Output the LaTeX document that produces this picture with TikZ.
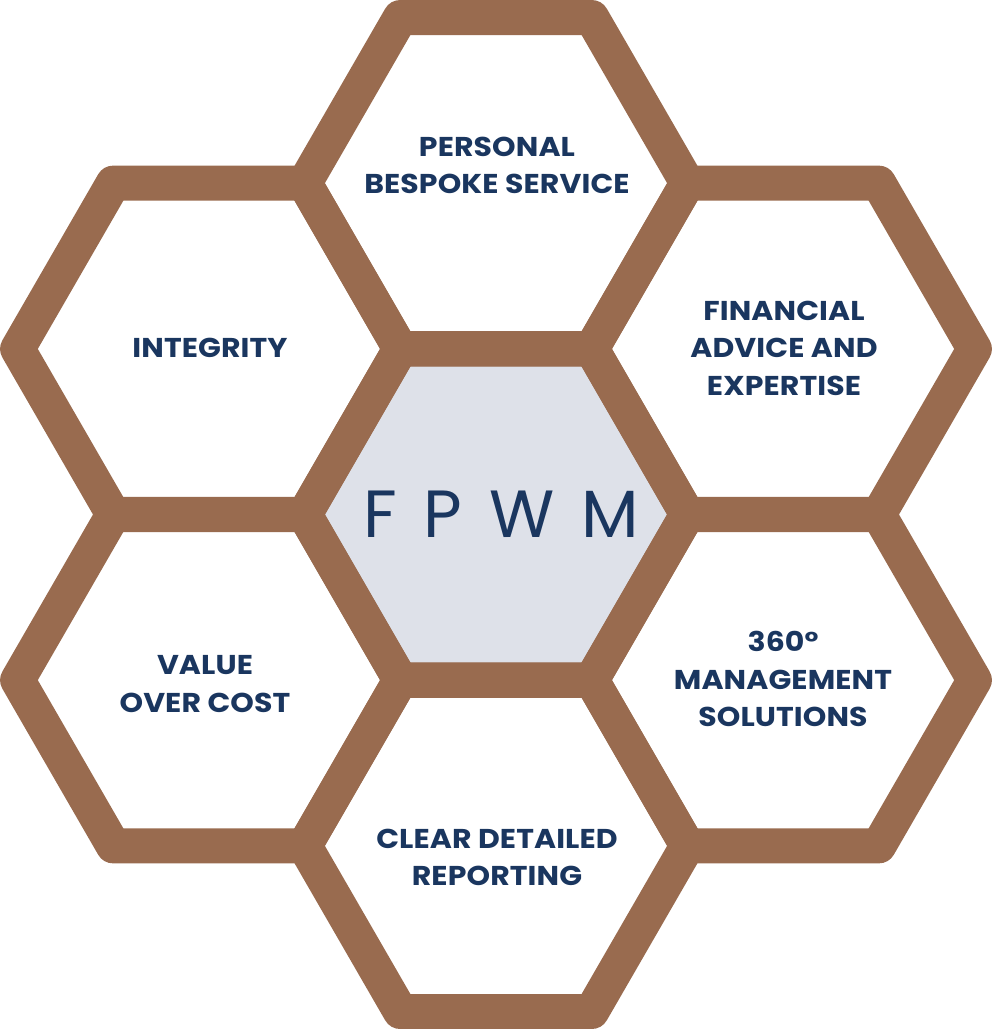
\documentclass[tikz,border=0pt]{standalone}
\usepackage{fontspec}
\setmainfont[FakeStretch=1.1,LetterSpace=0.4]{Poppins}
\newfontfamily\logofont{Poppins}
\usetikzlibrary{calc}
\definecolor{hexbrown}{HTML}{996B4F}
\definecolor{hexnavy}{HTML}{1A365F}
\definecolor{hexgrey}{HTML}{DEE1E9}
\tikzset{
	hexline/.style={line width=7mm,draw=hexbrown,line join=round},
	hexlabel/.style={align=center,text=hexnavy,inner sep=0,font=\fontsize{15.5}{21.3}\selectfont\bfseries},
}

\begin{document}
\begin{tikzpicture}[x=0.02cm,y=-0.02cm]

	\useasboundingbox (0,0) rectangle (992,1029);

	\coordinate (mid) at (501,514.5);
	\fill[hexgrey] (304.6,514.5) -- (400.3,348.7) -- (591.7,348.7) -- (687.4,514.5) -- (591.7,680.3) -- (400.3,680.3) -- cycle;

	% outer cells first, then the middle one on top
	\foreach \x/\y in {496/183.3, 209/348.9, 783/348.9, 209/680.1, 783/680.1, 496/845.7, 496/514.5}
		\draw[hexline] (\x-191.4,\y) -- (\x-95.7,\y-165.8) -- (\x+95.7,\y-165.8) -- (\x+191.4,\y) -- (\x+95.7,\y+165.8) -- (\x-95.7,\y+165.8) -- cycle;

	\node[hexlabel] (personal) at (497,165.6) {PERSONAL\\BESPOKE SERVICE};
	\node[hexlabel] (integrity) at (210,347.5) {INTEGRITY};
	\node[hexlabel] (financial) at (784,348) {FINANCIAL\\ADVICE AND\\EXPERTISE};
	\node[hexlabel] (value) at (205,684) {VALUE\\OVER COST};
	\node[hexlabel] (solutions) at (783,679) {360°\\MANAGEMENT\\SOLUTIONS};
	\node[hexlabel] (reporting) at (497,857.6) {CLEAR DETAILED\\REPORTING};

	\node[text=hexnavy,inner sep=0,font=\logofont\fontsize{38}{38}\selectfont] (fpwm) at (mid) {F\hspace{15pt}P\hspace{16pt}W\hspace{15pt}M};

\end{tikzpicture}
\end{document}
